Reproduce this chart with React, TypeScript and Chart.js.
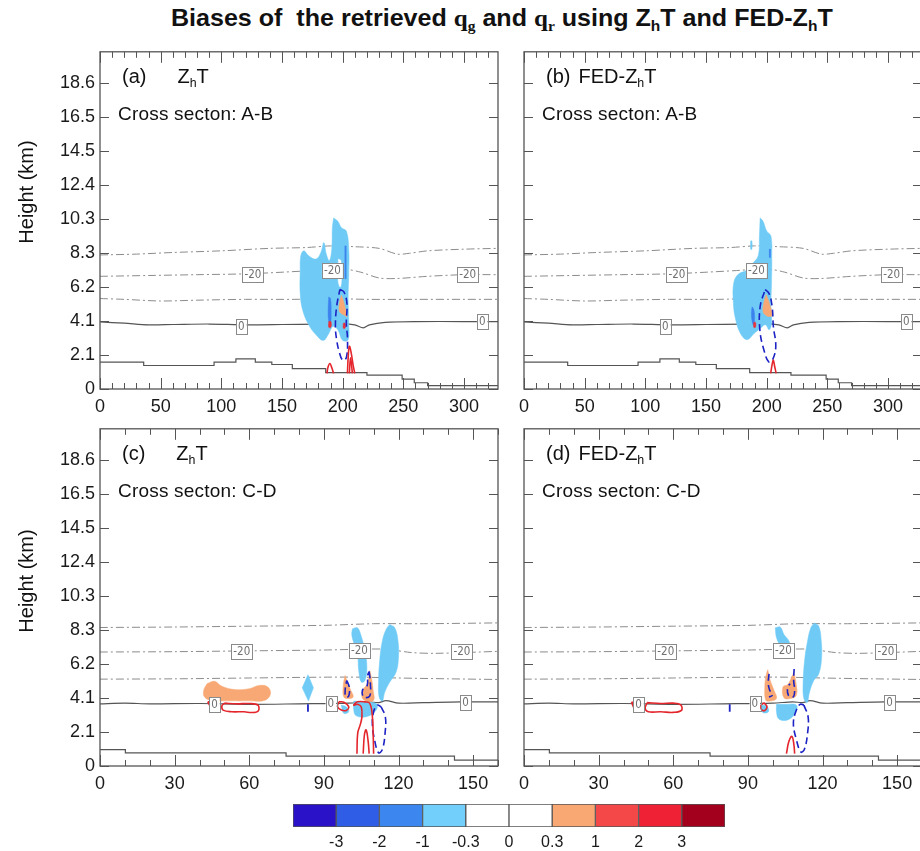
import React, { useEffect, useLayoutEffect, useRef } from 'react';
import { Chart, registerables } from 'chart.js';
Chart.register(...registerables);

type Pt = [number, number];

// ---------- axes ----------
const yTickValues = [0, 2.067, 4.133, 6.2, 8.267, 10.333, 12.4, 14.467, 16.533, 18.6];
const yTickLabels = ['0', '2.1', '4.1', '6.2', '8.3', '10.3', '12.4', '14.5', '16.5', '18.6'];
const yMax = 20.5;
const abXMax = 328;
const abMajor = [0, 50, 100, 150, 200, 250, 300];
const cdXMax = 160;
const cdMajor = [0, 30, 60, 90, 120, 150];
const minorStep = 10;

// ---------- colour bar ----------
const cbColors = ['#2a12c8', '#2f5de6', '#3c86f0', '#72cefa', '#ffffff', '#ffffff', '#f9a874', '#f44848', '#ee2234', '#a2001c'];
const cbLabels = ['-3', '-2', '-1', '-0.3', '0', '0.3', '1', '2', '3'];

// ---------- cross-section A-B background ----------
const abIsoUpper: Pt[] = [[0, 8.15], [30, 8.2], [60, 8.3], [100, 8.4], [140, 8.55], [170, 8.6], [190, 8.7], [210, 8.65], [230, 8.55], [245, 8.2], [255, 8.25], [270, 8.4], [300, 8.5], [328, 8.55]];
const abIsoMid: Pt[] = [[0, 6.85], [40, 6.9], [80, 6.95], [120, 7.0], [150, 7.1], [175, 7.2], [200, 7.3], [215, 7.1], [230, 6.75], [245, 6.72], [270, 6.85], [300, 6.95], [328, 6.95]];
const abIsoLow: Pt[] = [[0, 5.5], [20, 5.45], [50, 5.35], [80, 5.4], [120, 5.45], [160, 5.45], [190, 5.5], [220, 5.45], [260, 5.45], [300, 5.45], [328, 5.45]];
const abIso0: Pt[] = [[0, 4.08], [20, 4.0], [40, 3.9], [60, 3.92], [90, 3.95], [120, 3.9], [150, 3.92], [180, 3.95], [200, 3.98], [210, 3.9], [217, 3.72], [222, 3.9], [235, 4.05], [260, 4.1], [300, 4.1], [328, 4.1]];
const abTerrain: Pt[] = [[0, 1.63], [36, 1.43], [94, 1.63], [112, 1.83], [128, 1.63], [141.6, 1.49], [158.5, 1.24], [186, 1.0], [220, 0.84], [249, 0.6], [259, 0.38], [270, 0.2], [328, 0.2]];
const abLabels20: Pt[] = [[126, 6.95], [191.5, 7.2], [303, 6.95]];
const abLabels0: Pt[] = [[116.5, 3.8], [315, 4.08]];

// ---------- cross-section C-D background ----------
const cdIsoUpper: Pt[] = [[0, 8.42], [30, 8.45], [60, 8.5], [90, 8.55], [110, 8.65], [130, 8.65], [160, 8.7]];
const cdIsoMid: Pt[] = [[0, 6.93], [30, 6.95], [60, 7.0], [90, 7.05], [105, 7.1], [115, 7.1], [125, 6.9], [135, 6.85], [160, 6.97]];
const cdIsoLow: Pt[] = [[0, 5.28], [30, 5.3], [60, 5.35], [90, 5.4], [105, 5.4], [120, 5.35], [140, 5.3], [160, 5.26]];
const cdIso0: Pt[] = [[0, 3.78], [10, 3.82], [20, 3.78], [40, 3.8], [60, 3.75], [80, 3.78], [100, 3.82], [108, 3.9], [112, 3.85], [115, 3.98], [120, 3.82], [130, 3.85], [145, 3.9], [160, 3.9]];
const cdTerrain: Pt[] = [[0, 1.0], [10.2, 0.8], [74.8, 0.6], [142.5, 0.36], [160, 0.36]];
const cdLabels20: Pt[] = [[57, 6.97], [104.3, 7.0], [145.5, 6.97]];
const cdLabels0: Pt[] = [[46, 3.72], [92.8, 3.8], [147, 3.88]];

// ---------- panel (a) ----------
const aLightBlue: Pt[] = [[192.5, 10.4], [196, 10.2], [199, 9.8], [203, 9.6], [205, 8.5], [205, 7.0], [204.5, 5.5], [205, 4.0], [204.5, 3.0], [200, 2.95], [196, 3.6], [192, 3.8], [188, 3.3], [184, 2.95], [178, 3.3], [172, 3.9], [167, 4.8], [165, 5.8], [165, 7.2], [165.5, 8.1], [168, 8.4], [172, 8.1], [178, 7.9], [182, 8.3], [184.5, 8.9], [186.5, 8.2], [189, 7.8], [191, 8.5], [191.5, 9.8]];
const aGap: Pt[] = [[196.5, 7.9], [198.5, 7.8], [199, 6.7], [198, 6.2], [196.3, 6.6]];
const aMidBlue: Pt[] = [[188.5, 5.6], [190, 5.5], [190.5, 4.6], [190, 4.0], [188.5, 4.1], [188, 4.8]];
const aMidBlueStripe: Pt[] = [[201.8, 8.7], [202.6, 8.7], [202.6, 6.7], [201.8, 6.7]];
const aOrange: Pt[] = [[199, 5.7], [200.5, 5.4], [202.5, 4.8], [203.5, 4.4], [201, 4.5], [198.5, 4.6], [197, 4.8], [197.5, 5.3]];
const aRedSpot1: Pt[] = [[188.5, 4.1], [190.3, 4.1], [190.3, 3.75], [188.5, 3.75]];
const aRedSpot2: Pt[] = [[200.5, 4.0], [202, 4.0], [202, 3.7], [200.5, 3.7]];
const aBlueLoop: Pt[] = [[197.7, 6.05], [201, 5.9], [203.5, 5.2], [203, 4.0], [204, 3.0], [203, 1.9], [200, 1.75], [197, 2.3], [195, 3.0], [194, 3.8], [195, 5.0]];
const aRedArch1: Pt[] = [[187, 0.95], [188, 1.35], [189.5, 1.55], [191, 1.3], [192.5, 0.95]];
const aRedArch2: Pt[] = [[203.9, 0.95], [204.6, 2.0], [205.5, 2.6], [207, 2.2], [208.5, 1.5], [210, 0.95]];
const aRedArch3: Pt[] = [[205.5, 0.95], [206.5, 1.9], [208, 0.95]];

// ---------- panel (b) ----------
const bLightBlue: Pt[] = [[194.6, 10.4], [197, 10.2], [200, 9.6], [203.5, 9.3], [204.2, 8.0], [204, 6.5], [203.5, 5.0], [204, 4.0], [202, 3.6], [199, 3.9], [195, 3.7], [190, 3.4], [184, 3.0], [179, 3.3], [174.5, 4.2], [172.5, 5.3], [173, 6.5], [177, 7.0], [183, 7.2], [188, 7.6], [193, 8.1], [194, 9.3]];
const bLightBlueSpeck: Pt[] = [[186.8, 9.0], [187.8, 9.0], [187.8, 8.5], [186.8, 8.5]];
const bMidBlue: Pt[] = [[188, 5.0], [189.5, 4.8], [190, 4.2], [189, 3.9], [187.8, 4.2], [187.5, 4.7]];
const bMidBlueStripe: Pt[] = [[202.2, 8.5], [202.9, 8.5], [202.9, 8.0], [202.2, 8.0]];
const bOrange: Pt[] = [[199.5, 5.75], [201, 5.5], [203.5, 4.9], [205, 4.5], [202, 4.4], [199, 4.5], [197, 4.7], [197.5, 5.2]];
const bRedSpot: Pt[] = [[189.3, 4.05], [190.8, 4.05], [190.8, 3.75], [189.3, 3.75]];
const bBlueLoop: Pt[] = [[198.7, 6.05], [202, 5.8], [204.5, 5.0], [205.5, 3.8], [207.5, 2.6], [205, 1.8], [201.7, 1.65], [198, 2.3], [194.5, 3.5], [194.6, 5.0]];
const bRedArch: Pt[] = [[203.3, 0.95], [204.5, 1.5], [205.5, 1.75], [206.5, 1.4], [207.8, 0.95]];

// ---------- panel (c) ----------
const cDiamond: Pt[] = [[83.6, 5.55], [85.8, 4.75], [83.8, 3.95], [81.3, 4.75]];
const cBlobUpper: Pt[] = [[101.5, 8.35], [103.5, 8.4], [105, 7.9], [106.5, 7.0], [107.3, 6.0], [106.5, 5.2], [105, 5.1], [104, 5.8], [103.5, 6.8], [102, 7.5], [101.2, 8.0]];
const cBlobTall: Pt[] = [[116.5, 8.6], [118.5, 8.4], [119.8, 7.6], [120, 6.6], [119, 5.7], [116.5, 5.1], [114.5, 4.5], [113.5, 3.95], [112.2, 4.2], [112, 5.2], [112.5, 6.5], [113.5, 7.6], [115, 8.3]];
const cBlobLow: Pt[] = [[102, 3.95], [106, 3.9], [110, 3.85], [111.5, 3.7], [110.5, 3.3], [107, 3.0], [103, 3.05], [102, 3.4]];
const cBlobSmall: Pt[] = [[97, 3.7], [99, 3.6], [100, 3.3], [98, 3.2]];
const cOrangeBig: Pt[] = [[43, 5.0], [46, 5.15], [49, 4.85], [54, 4.65], [60, 4.7], [64, 4.9], [67.5, 4.8], [68.5, 4.35], [66, 3.98], [60, 3.96], [52, 3.96], [45, 3.98], [42, 4.2], [41.7, 4.6]];
const cOrange1: Pt[] = [[98.5, 5.5], [99.5, 5.1], [100.8, 4.6], [101.8, 4.2], [100, 4.1], [98, 4.2], [97.8, 4.9]];
const cOrange2: Pt[] = [[108.5, 5.8], [109.2, 5.3], [109.8, 4.6], [110, 4.0], [107, 3.95], [105.3, 4.2], [106, 4.7], [107.5, 5.0]];
const cBlueLoop1: Pt[] = [[99.2, 5.2], [100.2, 4.8], [100, 4.25], [98.8, 4.2], [98.6, 4.7]];
const cBlueLoop2: Pt[] = [[108.2, 5.75], [108.7, 5.0], [108.4, 4.25], [106, 4.2], [105.5, 4.6], [107.4, 4.9], [107.6, 5.5]];
const cBlueEllipse: Pt[] = [[113, 3.6], [114.7, 3.0], [114.6, 2.0], [113.5, 1.0], [112, 0.8], [110.5, 1.5], [109.5, 2.5], [110, 3.3], [111.5, 3.7]];
const cBlueTick: Pt[] = [[83.6, 3.75], [83.6, 3.3]];
const cRedEllipse: Pt[] = [[50, 3.82], [55, 3.78], [60, 3.8], [63.5, 3.7], [63.6, 3.35], [61, 3.25], [58, 3.3], [53, 3.3], [49.5, 3.4], [49, 3.65]];
const cRedTriangle: Pt[] = [[43.3, 3.9], [46.8, 3.88], [45.5, 3.4]];
const cRedLoop: Pt[] = [[96, 3.9], [98, 3.88], [100, 3.6], [99, 3.38], [97, 3.4], [95.5, 3.6]];
const cRedTower: Pt[] = [[103.3, 0.75], [103.6, 2.0], [104.6, 2.5], [105.3, 3.0], [105, 3.6], [103.5, 3.75], [102, 3.7], [103.5, 3.9], [106.5, 3.9], [108.5, 3.8], [109.5, 3.0], [109.8, 2.0], [110, 0.75]];
const cRedSpike: Pt[] = [[105.8, 0.75], [106.3, 1.9], [107, 2.2], [107.8, 1.5], [108.2, 0.75]];

// ---------- panel (d) ----------
const dBlobUpper: Pt[] = [[101, 8.4], [103, 8.45], [104.5, 8.0], [106.5, 7.6], [107.5, 7.0], [106.8, 6.6], [104.5, 6.8], [103, 7.3], [101.5, 7.8]];
const dBlobTall: Pt[] = [[116.7, 8.7], [118.5, 8.5], [119.5, 7.6], [119.6, 6.5], [118.5, 5.6], [116.5, 5.2], [114.8, 4.5], [113.8, 3.85], [112.5, 4.1], [112.2, 5.0], [112.8, 6.4], [114, 7.6], [115.3, 8.4]];
const dBlobLow: Pt[] = [[101.5, 3.75], [105, 3.75], [109.5, 3.7], [109, 3.2], [106, 2.8], [102.5, 2.85], [101.5, 3.3]];
const dBlobSmall: Pt[] = [[95, 3.7], [97.5, 3.65], [98.3, 3.3], [96, 3.25]];
const dOrange1: Pt[] = [[98, 5.85], [99, 5.2], [100.5, 4.6], [101.5, 4.1], [99, 3.95], [97.2, 4.0], [96.8, 4.8], [97.3, 5.5]];
const dOrange2: Pt[] = [[108.5, 5.7], [109.3, 5.1], [109.5, 4.3], [107, 4.1], [104.5, 4.15], [104.1, 4.8], [106, 4.95], [107.3, 5.3]];
const dBlueCurl1: Pt[] = [[98.5, 5.6], [98.2, 5.0], [98.8, 4.6], [99.8, 4.3], [98.5, 4.2]];
const dBlueCurl2: Pt[] = [[108.6, 5.9], [108.4, 5.2], [108.8, 4.6], [108.2, 4.2], [106.3, 4.3], [106, 4.8], [107, 5.0]];
const dBlueEllipse: Pt[] = [[112.5, 3.7], [114.2, 3.0], [114, 2.0], [112.7, 1.0], [111.3, 0.85], [109.5, 1.6], [108.3, 2.6], [109.5, 3.4], [111, 3.75]];
const dBlueTick: Pt[] = [[82.7, 3.75], [82.7, 3.3]];
const dRedEllipse: Pt[] = [[49.5, 3.85], [55, 3.8], [60, 3.82], [63, 3.72], [63.3, 3.38], [60, 3.26], [55, 3.3], [50, 3.3], [48.7, 3.5]];
const dRedTriangle: Pt[] = [[43.2, 3.88], [45.9, 3.86], [44.8, 3.4]];
const dRedCircle: Pt[] = [[96.4, 3.85], [97.7, 3.6], [96.4, 3.35], [95, 3.6]];
const dRedArch: Pt[] = [[105.5, 0.75], [106.5, 1.5], [107.7, 1.8], [108.5, 1.3], [108.8, 0.75]];

// ---------- styling ----------
const C = {
  light: '#6fcbf6',
  mid: '#3c82ee',
  orange: '#f8a874',
  red: '#e4262c',
  redFill: '#e8303a',
  blue: '#1c22c4',
  iso: '#8c8c8c',
  dark: '#555555',
  white: '#ffffff',
};

type Kind = 'fill' | 'fillSharp' | 'red' | 'redOpen' | 'blueDash' | 'blueDashOpen' | 'blueLine' | 'iso' | 'iso0' | 'step';
type Layer = [Pt[], Kind, string?];

const close = (p: Pt[]): Pt[] => [...p, p[0]];

function toDataset(layer: Layer) {
  const [pts, kind, color] = layer;
  const closed = kind === 'fill' || kind === 'fillSharp' || kind === 'red' || kind === 'blueDash';
  const src = closed ? close(pts) : pts;
  const base: any = {
    data: src.map(([x, y]) => ({ x, y })),
    showLine: true,
    pointRadius: 0,
    pointHoverRadius: 0,
    tension: 0.4,
    fill: false,
  };
  switch (kind) {
    case 'fill':
      return { ...base, fill: 'shape', backgroundColor: color, borderColor: color, borderWidth: 0.5 };
    case 'fillSharp':
      return { ...base, tension: 0, fill: 'shape', backgroundColor: color, borderColor: color, borderWidth: 0.5 };
    case 'red':
    case 'redOpen':
      return { ...base, borderColor: C.red, borderWidth: 1.6 };
    case 'blueDash':
    case 'blueDashOpen':
      return { ...base, borderColor: C.blue, borderWidth: 1.6, borderDash: [7, 4] };
    case 'blueLine':
      return { ...base, tension: 0, borderColor: C.blue, borderWidth: 1.8 };
    case 'iso':
      return { ...base, tension: 0.3, borderColor: C.iso, borderWidth: 1, borderDash: [8, 3, 2, 3] };
    case 'iso0':
      return { ...base, tension: 0.3, borderColor: C.dark, borderWidth: 1.2 };
    case 'step':
      return { ...base, tension: 0, stepped: 'before', borderColor: C.dark, borderWidth: 1.2 };
  }
}

const abBackground: Layer[] = [[abTerrain, 'step'], [abIsoUpper, 'iso'], [abIsoMid, 'iso'], [abIsoLow, 'iso'], [abIso0, 'iso0']];
const cdBackground: Layer[] = [[cdTerrain, 'step'], [cdIsoUpper, 'iso'], [cdIsoMid, 'iso'], [cdIsoLow, 'iso'], [cdIso0, 'iso0']];

interface PanelCfg {
  left: number;
  top: number;
  xMax: number;
  major: number[];
  showY: boolean;
  tag: string;
  method: 'ZhT' | 'FED';
  section: string;
  layers: Layer[];
  labels20: Pt[];
  labels0: Pt[];
}

const panels: PanelCfg[] = [
  {
    left: 0, top: 36, xMax: abXMax, major: abMajor, showY: true, tag: '(a)', method: 'ZhT', section: 'A-B',
    labels20: abLabels20, labels0: abLabels0,
    layers: [
      ...abBackground,
      [aLightBlue, 'fill', C.light], [aGap, 'fill', C.white], [aMidBlue, 'fill', C.mid], [aMidBlueStripe, 'fillSharp', C.mid],
      [aOrange, 'fill', C.orange], [aRedSpot1, 'fill', C.redFill], [aRedSpot2, 'fill', C.redFill],
      [aBlueLoop, 'blueDash'], [aRedArch1, 'redOpen'], [aRedArch2, 'redOpen'], [aRedArch3, 'redOpen'],
    ],
  },
  {
    left: 424, top: 36, xMax: abXMax, major: abMajor, showY: false, tag: '(b)', method: 'FED', section: 'A-B',
    labels20: abLabels20, labels0: abLabels0,
    layers: [
      ...abBackground,
      [bLightBlue, 'fill', C.light], [bLightBlueSpeck, 'fill', C.light], [bMidBlue, 'fill', C.mid],
      [bMidBlueStripe, 'fillSharp', C.mid], [bOrange, 'fill', C.orange], [bRedSpot, 'fill', C.redFill],
      [bBlueLoop, 'blueDash'], [bRedArch, 'redOpen'],
    ],
  },
  {
    left: 0, top: 413, xMax: cdXMax, major: cdMajor, showY: true, tag: '(c)', method: 'ZhT', section: 'C-D',
    labels20: cdLabels20, labels0: cdLabels0,
    layers: [
      ...cdBackground,
      [cDiamond, 'fillSharp', C.light], [cBlobUpper, 'fill', C.light], [cBlobTall, 'fill', C.light],
      [cBlobLow, 'fill', C.light], [cBlobSmall, 'fill', C.light],
      [cOrangeBig, 'fill', C.orange], [cOrange1, 'fill', C.orange], [cOrange2, 'fill', C.orange],
      [cBlueLoop1, 'blueDash'], [cBlueLoop2, 'blueDash'], [cBlueEllipse, 'blueDash'], [cBlueTick, 'blueLine'],
      [cRedEllipse, 'red'], [cRedTriangle, 'red'], [cRedLoop, 'red'], [cRedTower, 'redOpen'], [cRedSpike, 'redOpen'],
    ],
  },
  {
    left: 424, top: 413, xMax: cdXMax, major: cdMajor, showY: false, tag: '(d)', method: 'FED', section: 'C-D',
    labels20: cdLabels20, labels0: cdLabels0,
    layers: [
      ...cdBackground,
      [dBlobUpper, 'fill', C.light], [dBlobTall, 'fill', C.light], [dBlobLow, 'fill', C.light], [dBlobSmall, 'fill', C.light],
      [dOrange1, 'fill', C.orange], [dOrange2, 'fill', C.orange],
      [dBlueCurl1, 'blueDashOpen'], [dBlueCurl2, 'blueDashOpen'], [dBlueEllipse, 'blueDash'], [dBlueTick, 'blueLine'],
      [dRedEllipse, 'red'], [dRedTriangle, 'red'], [dRedCircle, 'red'], [dRedArch, 'redOpen'],
    ],
  },
];

const CW = 510;
const CH = 383;
const SANS = '"Liberation Sans", Arial, sans-serif';

function Panel({ cfg }: { cfg: PanelCfg }) {
  const ref = useRef<HTMLCanvasElement>(null);
  useEffect(() => {
    const canvas = ref.current!;
    const datasets = [...cfg.layers].reverse().map(toDataset);
    const frame = {
      id: 'frame',
      afterDatasetsDraw(chart: any) {
        const { ctx, chartArea: a, scales } = chart;
        const x = scales.x, y = scales.y;
        ctx.save();
        // contour labels
        ctx.font = '11.5px "DejaVu Sans Condensed", "Liberation Sans Narrow", sans-serif';
        ctx.textAlign = 'center';
        ctx.textBaseline = 'middle';
        const drawLab = (p: Pt, t: string) => {
          const px = x.getPixelForValue(p[0]);
          const py = y.getPixelForValue(p[1]);
          const w = ctx.measureText(t).width + 4;
          const h = 15;
          ctx.fillStyle = '#ffffff';
          ctx.fillRect(px - w / 2, py - h / 2, w, h);
          ctx.strokeStyle = '#8a8a8a';
          ctx.lineWidth = 1;
          ctx.strokeRect(Math.round(px - w / 2) + 0.5, Math.round(py - h / 2) + 0.5, Math.round(w), h);
          ctx.fillStyle = '#707070';
          ctx.fillText(t, px, py + 0.5);
        };
        cfg.labels20.forEach((p) => drawLab(p, '-20'));
        cfg.labels0.forEach((p) => drawLab(p, '0'));
        // ticks (inward)
        ctx.strokeStyle = '#555555';
        ctx.lineWidth = 1;
        ctx.beginPath();
        for (let v = 0; v <= cfg.xMax; v += minorStep) {
          const isMajor = cfg.major.includes(v);
          const len = isMajor ? 11 : 6;
          const px = Math.round(x.getPixelForValue(v)) + 0.5;
          ctx.moveTo(px, a.bottom);
          ctx.lineTo(px, a.bottom - len);
          ctx.moveTo(px, a.top);
          ctx.lineTo(px, a.top + len);
        }
        yTickValues.forEach((v) => {
          const py = Math.round(y.getPixelForValue(v)) + 0.5;
          ctx.moveTo(a.left, py);
          ctx.lineTo(a.left + 9, py);
          ctx.moveTo(a.right, py);
          ctx.lineTo(a.right - 9, py);
        });
        ctx.stroke();
        ctx.lineWidth = 1.3;
        ctx.strokeRect(a.left, a.top, a.right - a.left, a.bottom - a.top);
        ctx.restore();
      },
    };
    const chart = new Chart(canvas, {
      type: 'scatter',
      data: { datasets },
      options: {
        animation: false,
        responsive: false,
        devicePixelRatio: 1,
        layout: { padding: { top: 10, right: 12, left: 0, bottom: 0 } },
        plugins: { legend: { display: false }, tooltip: { enabled: false } },
        events: [],
        scales: {
          x: {
            type: 'linear',
            min: 0,
            max: cfg.xMax,
            grid: { display: false, drawTicks: false },
            border: { display: false },
            afterBuildTicks: (s: any) => { s.ticks = cfg.major.map((v) => ({ value: v })); },
            afterFit: (s: any) => { s.height = 30; },
            ticks: { color: '#1a1a1a', font: { size: 18, family: SANS }, padding: 7, maxRotation: 0, autoSkip: false },
          },
          y: {
            type: 'linear',
            min: 0,
            max: yMax,
            grid: { display: false, drawTicks: false },
            border: { display: false },
            afterBuildTicks: (s: any) => { s.ticks = yTickValues.map((v) => ({ value: v })); },
            afterFit: (s: any) => { s.width = 100; },
            ticks: {
              color: '#1a1a1a',
              font: { size: 18, family: SANS },
              padding: 5,
              autoSkip: false,
              callback: (_v: any, i: number) => (cfg.showY ? yTickLabels[i] : ''),
            },
          },
        },
      } as any,
      plugins: [frame],
    });
    return () => chart.destroy();
  }, [cfg]);
  return (
    <canvas
      ref={ref}
      width={CW}
      height={CH}
      style={{ position: 'absolute', left: cfg.left, top: cfg.top, width: CW, height: CH }}
    />
  );
}

function ColorBar() {
  const ref = useRef<HTMLCanvasElement>(null);
  useEffect(() => {
    const chart = new Chart(ref.current!, {
      type: 'bar',
      data: {
        datasets: [
          {
            data: cbColors.map((_, i) => ({ x: i + 0.5, y: 1 })),
            backgroundColor: cbColors,
            borderColor: '#555555',
            borderWidth: 1,
            borderSkipped: false,
            barPercentage: 1,
            categoryPercentage: 1,
          },
        ],
      },
      options: {
        animation: false,
        responsive: false,
        devicePixelRatio: 1,
        events: [],
        layout: { padding: { top: 9, left: 13, right: 15, bottom: 0 } },
        plugins: { legend: { display: false }, tooltip: { enabled: false } },
        scales: {
          x: {
            type: 'linear',
            min: 0,
            max: 10,
            offset: false,
            grid: { display: false, drawTicks: false },
            border: { display: false },
            afterBuildTicks: (s: any) => { s.ticks = cbLabels.map((_, i) => ({ value: i + 1 })); },
            afterFit: (s: any) => { s.height = 24; },
            ticks: {
              color: '#1a1a1a',
              font: { size: 16, family: SANS },
              padding: 6,
              maxRotation: 0,
              autoSkip: false,
              callback: (_v: any, i: number) => cbLabels[i],
            },
          },
          y: { min: 0, max: 1, display: false },
        },
      } as any,
    });
    return () => chart.destroy();
  }, []);
  return (
    <canvas ref={ref} width={460} height={56} style={{ position: 'absolute', left: 280, top: 795, width: 460, height: 56 }} />
  );
}

const sub: React.CSSProperties = { fontSize: '0.62em', verticalAlign: '-0.35em' };

function PanelText({ cfg }: { cfg: PanelCfg }) {
  const x0 = cfg.left + 100;
  const y0 = cfg.top + 10;
  return (
    <>
      <div style={{ position: 'absolute', left: x0 + 22, top: y0 + 19, fontFamily: SANS, fontSize: 20, color: '#111', whiteSpace: 'nowrap' }}>
        <span>{cfg.tag}</span>
        <span style={{ marginLeft: cfg.method === 'ZhT' ? 31 : 8 }}>
          {cfg.method === 'FED' ? 'FED-' : ''}Z<span style={sub}>h</span>T
        </span>
      </div>
      <div style={{ position: 'absolute', left: x0 + 18, top: y0 + 57, fontFamily: SANS, fontSize: 19, letterSpacing: 0.2, color: '#111', whiteSpace: 'nowrap' }}>
        Cross secton: {cfg.section}
      </div>
    </>
  );
}

function Title() {
  const ref = useRef<HTMLSpanElement>(null);
  useLayoutEffect(() => {
    const el = ref.current!;
    el.style.transform = 'none';
    const w = el.offsetWidth;
    el.style.transform = `scaleX(${662 / w})`;
  }, []);
  const q: React.CSSProperties = { fontFamily: '"Liberation Serif", "Times New Roman", serif' };
  return (
    <div style={{ position: 'absolute', left: 171, top: 4, width: 700, whiteSpace: 'nowrap' }}>
      <span
        ref={ref}
        style={{ display: 'inline-block', transformOrigin: '0 0', fontFamily: SANS, fontWeight: 'bold', fontSize: 24, color: '#111' }}
      >
        Biases of&nbsp; the retrieved <span style={q}>q<span style={sub}>g</span></span> and{' '}
        <span style={q}>q<span style={sub}>r</span></span> using Z<span style={sub}>h</span>T and FED-Z<span style={sub}>h</span>T
      </span>
    </div>
  );
}

export default function App() {
  const yTitle = (cy: number): React.CSSProperties => ({
    position: 'absolute',
    left: 26,
    top: cy,
    transform: 'translate(-50%, -50%) rotate(-90deg)',
    fontFamily: SANS,
    fontSize: 20,
    color: '#111',
    whiteSpace: 'nowrap',
  });
  return (
    <div style={{ position: 'fixed', left: 0, top: 0, width: 920, height: 851, overflow: 'hidden', background: '#ffffff' }}>
      <Title />
      {panels.map((p, i) => (
        <Panel key={i} cfg={p} />
      ))}
      {panels.map((p, i) => (
        <PanelText key={'t' + i} cfg={p} />
      ))}
      <div style={yTitle(192)}>Height (km)</div>
      <div style={yTitle(581)}>Height (km)</div>
      <ColorBar />
    </div>
  );
}
